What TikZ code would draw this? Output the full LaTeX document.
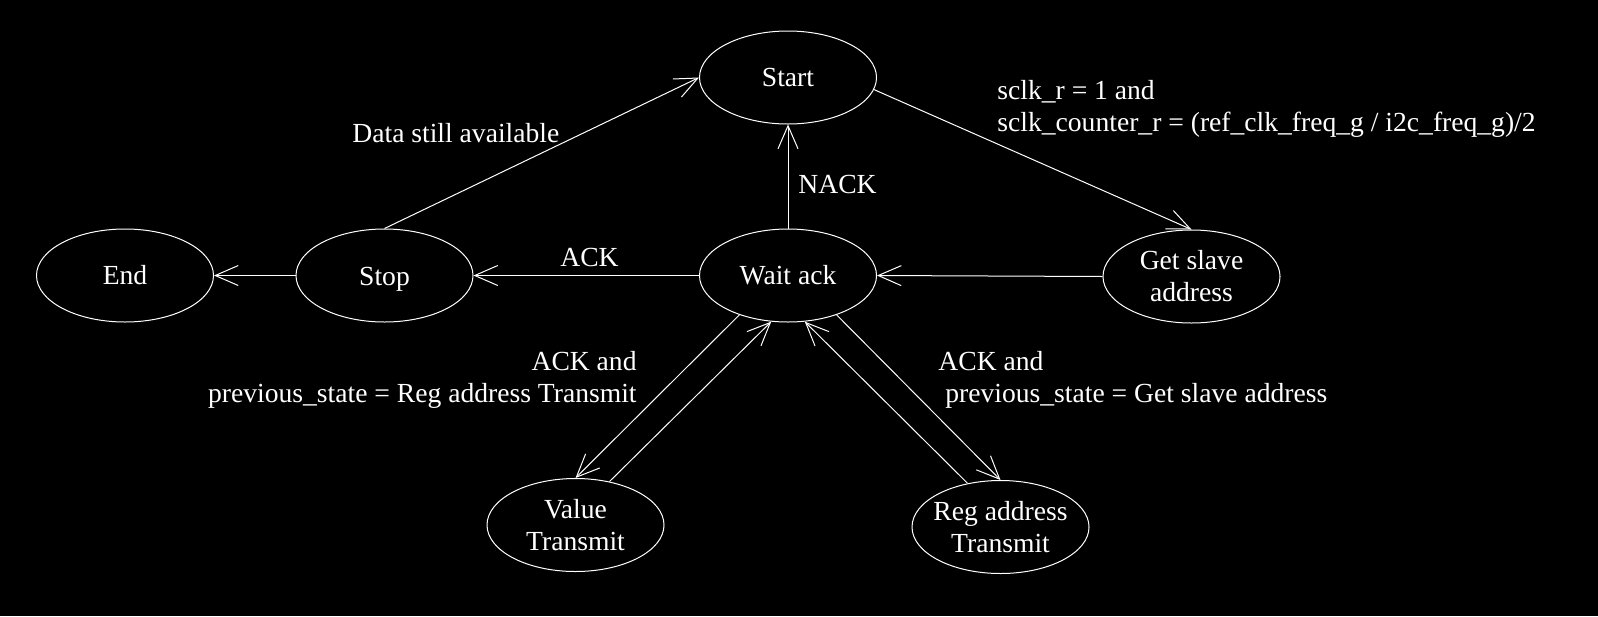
\documentclass[tikz,border=0pt]{standalone}
\usepackage{fontspec}
\setmainfont{Liberation Serif}
\usetikzlibrary{shapes.geometric,arrows.meta}

\begin{document}
\begin{tikzpicture}[x=0.5pt,y=-0.5pt,
    state/.style={draw=white, ellipse, line width=0.5pt, minimum width=88.5pt, minimum height=46.5pt, inner sep=0pt},
    trans/.style={draw=white, line width=0.5pt, -{Straight Barb[length=11.5pt,width=10pt,line width=0.5pt]}},
    txt/.style={text=white, inner sep=0pt, font=\fontsize{13.8}{16}\selectfont},
    every label/.style={txt, align=center}]
    \useasboundingbox (0,0) rectangle (1598,616);
    \fill[black] (0,0) rectangle (1598,616);

    % States
    \node[state, label=center:Start] (start) at (788,77.5) {};
    \node[state, label=center:End] (end) at (125,275.5) {};
    \node[state, label={[yshift=-2pt]center:Stop}] (stop) at (384.5,275.5) {};
    \node[state, label=center:Wait ack] (wait) at (788,275.5) {};
    \node[state, label=center:{Get slave\\address}] (getslave) at (1191.5,276.5) {};
    \node[state, label=center:{Value\\Transmit}] (value) at (575.5,525) {};
    \node[state, label=center:{Reg address\\Transmit}] (reg) at (1000.5,527) {};

    % Transitions
    \draw[trans] (stop.north) -- (start.west);
    \draw[trans] (start.-8) -- (getslave.north);
    \draw[trans] (getslave.west) -- (wait.east);
    \draw[trans] (wait.west) -- (stop.east);
    \draw[trans] (stop.west) -- (end.east);
    \draw[trans] (wait.north) -- (start.south);
    \draw[trans] (wait.219) -- (value.north);
    \draw[trans] (value.52) -- (wait.250);
    \draw[trans] (wait.321) -- (reg.north);
    \draw[trans] (reg.127) -- (wait.290);

    % Labels
    \node[txt, anchor=west] (lbldata) at (352,133) {Data still available};
    \node[txt, anchor=west, align=left] (lblsclk) at (997,108.5) {sclk\_r = 1 and\\sclk\_counter\_r = (ref\_clk\_freq\_g / i2c\_freq\_g)/2};
    \node[txt, anchor=west] (lblnack) at (798,184.5) {NACK};
    \node[txt, anchor=west] (lblack) at (560,257) {ACK};
    \node[txt, anchor=east, align=right] (lblreg) at (637,380) {ACK and\\previous\_state = Reg address Transmit};
    \node[txt, anchor=west, align=left] (lblget) at (938,380) {ACK and\\\ previous\_state = Get slave address};
\end{tikzpicture}
\end{document}
